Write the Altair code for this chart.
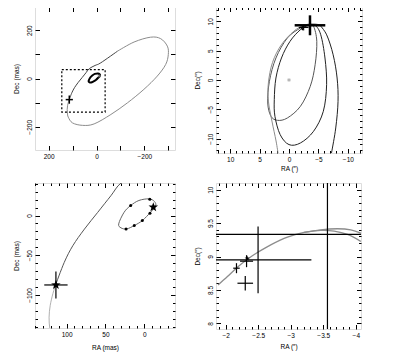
import json
import altair as alt
import pandas as pd

FONT = "Liberation Sans"
FS = 6.5
GRAY = "#8c8c8c"
DARK = "#444444"
STAR = ("M0,-1L0.235,-0.324L0.951,-0.309L0.38,0.124L0.588,0.809L0,0.4"
        "L-0.588,0.809L-0.38,0.124L-0.951,-0.309L-0.235,-0.324Z")

# ---------------- data (mas) ----------------
arc_dark_x = [114, 103, 92, 77, 60, 43, 30, 6, -18, -87.5]
arc_dark_y = [-87, -59, -38, -17, 4, 25, 41, 54, 65, 113]
arc_light_x = [-87.5, -157, -226, -268, -296, -300, -289, -254, -198, -129, -60, 10, 58, 100,
               118, 121.5, 122.5, 121, 117.5, 114]
arc_light_y = [113, 151, 171, 165, 134, 99, 58, 10, -45, -101, -149, -188, -194, -184,
               -160, -143, -128, -113, -98, -87]

small_x = [33, 26, 17.6, 7, -6, -13, -14.5, -8, 2.6, 13, 22.7, 30]
small_y = [-10.5, 4.2, 12.6, 19, 21, 17.7, 11.8, 4.2, -6.3, -12.6, -16.8, -15.5]
dots_x = [17.6, -7, -7.2, 2.6, 13, 23.5]
dots_y = [12.6, 20.5, 3.0, -6.3, -12.6, -16.8]
comp_star_x = [-11.5]
comp_star_y = [10.6]

box_x1 = [145]
box_x2 = [-36]
box_y1 = [-139]
box_y2 = [37]

obs_x = [113.7]
obs_y = [-87.4]
obs_ex = [15]
obs_ey = [17]

# ---------------- data (arcsec) ----------------
inner_x = [-4.17, -4.72, -4.44, -3.61, -1.94, 0.28, 1.94, 3.06, 3.61, 3.33, 2.22, 0.28, -1.94, -3.33]
inner_y = [9.15, 6.59, 2.61, -1.08, -4.49, -6.48, -6.88, -6.19, -3.92, -0.23, 3.75, 7.16, 8.86, 9.32]
middle_x = [-4.44, -5.39, -6.11, -6.39, -5.83, -4.17, -1.94, 0, 1.5, 2.39, 2.5, 2.22, 1.28, -0.17, -1.94, -3.33]
middle_y = [9.32, 7.73, 3.75, -0.8, -5.34, -8.75, -10.74, -11.02, -9.32, -6.19, -3.35, 0.34, 3.75, 6.59, 8.58, 9.32]
outer_l_x = [1.83, 2.2, 2.9, 3.5, 3.5, 2.8, 1.3, -0.8, -2.5, -4.0, -5.2]
outer_l_y = [-12.7, -10.4, -7.0, -3.6, -0.5, 3.0, 6.0, 8.3, 9.3, 9.6, 9.4]
outer_r_x = [-5.2, -6.4, -7.5, -8.17, -8.33, -7.94, -7.22, -7.0]
outer_r_y = [9.4, 7.7, 4.3, 0.34, -3.64, -8.18, -12.44, -13.5]

curveA_x = [-1.882, -2.026, -2.179, -2.333, -2.487, -2.692, -2.949, -3.205, -3.462, -3.718, -3.923, -4.077]
curveA_y = [8.575, 8.70, 8.84, 8.96, 9.06, 9.175, 9.29, 9.36, 9.40, 9.415, 9.40, 9.35]
curveB_x = [-3.205, -3.462, -3.667, -3.872, -4.077]
curveB_y = [9.36, 9.39, 9.38, 9.33, 9.225]

big_x = [-3.564]
big_y = [9.33]
big_ex = [2.6]
big_ey = [1.7]
pos_x = [-2.497, -2.30, -2.165, -2.32]
pos_y = [8.95, 8.60, 8.825, 8.93]
pos_ex = [0.82, 0.12, 0.05, 0.10]
pos_ey = [0.50, 0.11, 0.075, 0.09]
pstar_x = [-2.33]
pstar_y = [8.97]
origin_x = [0]
origin_y = [0]

# ---------------- axis ticks (all ticks / long ticks / labelled ticks) ----------------
p1_xt = [200, 100, 0, -100, -200, -300]
p1_xl = [200, 0, -200]
p1_yt = [-200, -100, 0, 100, 200]
p1_yl = [-200, 0, 200]
p2_xt = list(range(-12, 13))
p2_xl = [-10, -5, 0, 5, 10]
p2_yt = list(range(-12, 13))
p2_yl = [-10, -5, 0, 5, 10]
p3_xt = list(range(-30, 141, 10))
p3_xl = [0, 50, 100]
p3_yt = list(range(-140, 41, 10))
p3_yl = [-100, -50, 0]
p4_xt = [round(-1.9 - 0.1 * k, 1) for k in range(22)]
p4_xl = [-2, -2.5, -3, -3.5, -4]
p4_yt = [round(8.0 + 0.1 * k, 1) for k in range(21)]
p4_yl = [8, 8.5, 9, 9.5, 10]


def pts(xs, ys):
    return pd.DataFrame({"x": xs, "y": ys, "i": list(range(len(xs)))})


def crosses(xs, ys, exs, eys):
    df = pd.DataFrame({"x": xs, "y": ys, "ex": exs, "ey": eys})
    df["x1"] = df["x"] - df["ex"]
    df["x2"] = df["x"] + df["ex"]
    df["y1"] = df["y"] - df["ey"]
    df["y2"] = df["y"] + df["ey"]
    return df


def mk_axis(orient, vals, longs, labs, title, tpad, length):
    # inward ticks on both sides drawn as dashed grid lines: dash at each end only
    lg = json.dumps(longs)
    lb = json.dumps(labs)
    kw = dict(orient=orient, values=vals, tickCount=200, ticks=False, domain=False, grid=True,
              gridColor="black", gridOpacity=1, gridWidth=1,
              gridDash={"condition": {"test": f"indexof({lg}, datum.value) < 0",
                                      "value": [2.5, length - 5, 2.5, 2000]},
                        "value": [4.5, length - 9, 4.5, 2000]},
              labels=True, format=".4~g",
              labelExpr=f"indexof({lb}, datum.value) >= 0 ? datum.label : ''",
              labelFont=FONT, labelFontSize=FS, labelColor="black", labelPadding=3,
              labelFlush=False, labelOverlap=False)
    if orient == "left":
        kw.update(labelAngle=270, labelAlign="center", labelBaseline="bottom")
    if title:
        kw.update(title=title, titleFont=FONT, titleFontSize=FS, titleFontWeight="normal",
                  titleColor="black", titlePadding=tpad)
    else:
        kw.update(title=None)
    return alt.Axis(**kw)


def panel(layers, xdom, ydom, xt, xlong, xl, yt, ylong, yl, xtitle, ytitle, xpad, ypad, w, h):
    xs = alt.Scale(domain=xdom, nice=False, zero=False)
    ys = alt.Scale(domain=ydom, nice=False, zero=False)
    ax0 = mk_axis("bottom", xt, xlong, xl, xtitle, xpad, h)
    ay0 = mk_axis("left", yt, ylong, yl, ytitle, ypad, w)

    def X(f, k):
        if k == 0:
            return alt.X(f, type="quantitative", scale=xs, axis=ax0)
        return alt.X(f, type="quantitative", scale=xs)

    def Y(f, k):
        if k == 0:
            return alt.Y(f, type="quantitative", scale=ys, axis=ay0)
        return alt.Y(f, type="quantitative", scale=ys)

    out = []
    for k, (kind, df, opts) in enumerate(layers):
        if kind == "line":
            m = alt.Chart(df).mark_line(clip=True, **opts).encode(
                x=X("x", k), y=Y("y", k), order=alt.Order("i:Q"))
        elif kind == "point":
            m = alt.Chart(df).mark_point(clip=True, **opts).encode(x=X("x", k), y=Y("y", k))
        elif kind == "circle":
            m = alt.Chart(df).mark_circle(clip=True, **opts).encode(x=X("x", k), y=Y("y", k))
        elif kind == "rect":
            m = alt.Chart(df).mark_rect(clip=True, **opts).encode(
                x=X("x1", k), x2="x2", y=Y("y1", k), y2="y2")
        elif kind == "hrule":
            m = alt.Chart(df).mark_rule(clip=True, **opts).encode(
                x=X("x1", k), x2="x2", y=Y("y", k))
        else:  # vrule
            m = alt.Chart(df).mark_rule(clip=True, **opts).encode(
                x=X("x", k), y=Y("y1", k), y2="y2")
        out.append(m)
    return alt.layer(*out).properties(width=w, height=h)


arc_l = pts(arc_light_x, arc_light_y)
arc_d = pts(arc_dark_x, arc_dark_y)
small = pts(small_x, small_y)
obs = crosses(obs_x, obs_y, obs_ex, obs_ey)
box = pd.DataFrame({"x1": box_x1, "x2": box_x2, "y1": box_y1, "y2": box_y2})
cstar = pts(comp_star_x, comp_star_y)

p1 = panel([
    ("line", arc_l, dict(interpolate="cardinal", color=GRAY, strokeWidth=1)),
    ("line", arc_d, dict(interpolate="cardinal", color=DARK, strokeWidth=1)),
    ("rect", box, dict(fillOpacity=0, stroke="black", strokeWidth=1.2, strokeDash=[2, 2])),
    ("line", small, dict(interpolate="cardinal-closed", color="black", strokeWidth=2)),
    ("point", cstar, dict(shape=STAR, filled=True, color="#999999", size=20)),
    ("hrule", obs, dict(color="black", strokeWidth=1.5)),
    ("vrule", obs, dict(color="black", strokeWidth=1.5)),
], [257, -328], [-296, 296], p1_xt, p1_xt, p1_xl, p1_yt, p1_yt, p1_yl,
    None, "Dec (mas)", 6, 7, 140, 143)

p3 = panel([
    ("line", arc_l, dict(interpolate="cardinal", color="#b0b0b0", strokeWidth=1)),
    ("line", arc_d, dict(interpolate="cardinal", color="#555555", strokeWidth=1)),
    ("line", small, dict(interpolate="cardinal-closed", color="#666666", strokeWidth=1)),
    ("circle", pts(dots_x, dots_y), dict(color="black", size=9, opacity=1)),
    ("point", cstar, dict(shape=STAR, filled=True, color="black", size=100, opacity=1)),
    ("hrule", obs, dict(color="black", strokeWidth=1.2)),
    ("vrule", obs, dict(color="black", strokeWidth=1.2)),
    ("point", pts(obs_x, obs_y), dict(shape=STAR, filled=True, color="black", size=100, opacity=1)),
], [140.6, -39.4], [-141.6, 41], p3_xt, p3_xl, p3_xl, p3_yt, p3_yl, p3_yl,
    "RA (mas)", "Dec (mas)", 7, 7, 140, 145)

big = crosses(big_x, big_y, big_ex, big_ey)
pos = crosses(pos_x, pos_y, pos_ex, pos_ey)
pstar = pts(pstar_x, pstar_y)

p2 = panel([
    ("line", pts(inner_x, inner_y), dict(interpolate="cardinal-closed", color="#555555", strokeWidth=1)),
    ("line", pts(outer_l_x, outer_l_y), dict(interpolate="cardinal", color=GRAY, strokeWidth=1)),
    ("line", pts(middle_x, middle_y), dict(interpolate="cardinal-closed", color="#222222", strokeWidth=1)),
    ("line", pts(outer_r_x, outer_r_y), dict(interpolate="cardinal", color="#222222", strokeWidth=1)),
    ("point", pts(origin_x, origin_y), dict(shape="cross", angle=45, filled=True, color="#999999", size=14)),
    ("hrule", pos, dict(color="black", strokeWidth=1)),
    ("vrule", pos, dict(color="black", strokeWidth=1)),
    ("point", pstar, dict(shape=STAR, filled=True, color="black", size=25, opacity=1)),
    ("hrule", big, dict(color="black", strokeWidth=2.5)),
    ("vrule", big, dict(color="black", strokeWidth=2.5)),
], [12.4, -12.4], [-12.45, 12.45], p2_xt, p2_xl, p2_xl, p2_yt, p2_yl, p2_yl,
    "RA (″)", "Dec(″)", 3, 7, 146, 146)

p4 = panel([
    ("line", pts(curveA_x, curveA_y), dict(interpolate="cardinal", color=GRAY, strokeWidth=1.3)),
    ("line", pts(curveB_x, curveB_y), dict(interpolate="cardinal", color=GRAY, strokeWidth=1.3)),
    ("hrule", big, dict(color="black", strokeWidth=1.2)),
    ("vrule", big, dict(color="black", strokeWidth=1.2)),
    ("hrule", pos, dict(color="black", strokeWidth=1.2)),
    ("vrule", pos, dict(color="black", strokeWidth=1.2)),
    ("point", pstar, dict(shape=STAR, filled=True, color="black", size=30, opacity=1)),
], [-1.85, -4.08], [7.915, 10.1], p4_xt, p4_xl, p4_xl, p4_yt, p4_yl, p4_yl,
    "RA (″)", "Dec(″)", 5, 7, 145, 146)

col1 = alt.vconcat(p1, p3, spacing=22)
col2 = alt.vconcat(p2, p4, spacing=9)
chart = alt.hconcat(col1, col2, spacing=17).properties(
    padding={"left": 4, "top": -2, "right": 0, "bottom": 0}
).configure_view(
    stroke="black", strokeWidth=1.3
).configure_axis(
    labelOverlap=False, labelFlush=False, labelFont=FONT, labelFontSize=FS, labelColor="black",
    labelPadding=3, titleFont=FONT, titleFontSize=FS, titleFontWeight="normal", titleColor="black",
    ticks=False, domain=False, grid=True, gridColor="black", gridOpacity=1, gridWidth=1
).configure(background="white")

chart.save("out.html", embed_options={"renderer": "svg", "actions": False})
